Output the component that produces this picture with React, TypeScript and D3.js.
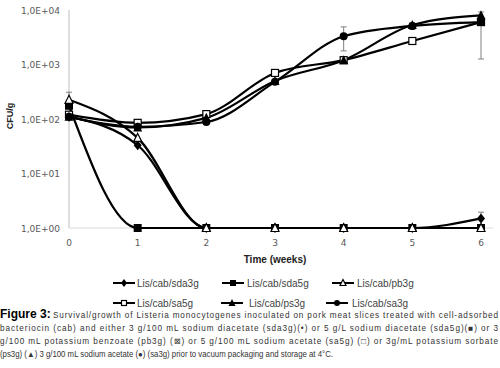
import React from 'react';
import * as d3 from 'd3';

// weeks of storage
const weeks = [0, 1, 2, 3, 4, 5, 6];

// CFU/g (log axis)
const sda3g = [110, 33, 1, 1, 1, 1, 1.5];
const sda5g = [175, 1, 1, 1, 1, 1, 1];
const pb3g = [225, 45, 1, 1, 1, 1, 1];
const sa5g = [120, 85, 123, 700, 1200, 2700, 6000];
const ps3g = [110, 70, 105, 500, 1200, 5300, 8000];
const sa3g = [110, 72, 88, 480, 3300, 5100, 6000];

const seriesNames = ['Lis/cab/sda3g', 'Lis/cab/sda5g', 'Lis/cab/pb3g', 'Lis/cab/sa5g', 'Lis/cab/ps3g', 'Lis/cab/sa3g'];
const seriesValues = [sda3g, sda5g, pb3g, sa5g, ps3g, sa3g];
const seriesMarkers = ['diamond', 'square', 'triangleOpen', 'squareOpen', 'triangle', 'circle'];

// error bars: series index, week, low, high
const errSeries = [2, 5, 5, 5, 0];
const errWeek = [0, 4, 5, 6, 6];
const errLow = [160, 1780, 4400, 1260, 1.1];
const errHigh = [310, 4900, 5800, 9200, 1.95];

const yTicks = [1, 10, 100, 1000, 10000];
const xTicks = [0, 1, 2, 3, 4, 5, 6];

const captionLines = [
  'Survival/growth of Listeria monocytogenes inoculated on pork meat slices treated with cell-adsorbed',
  'bacteriocin (cab) and either 3 g/100 mL sodium diacetate (sda3g)(•) or 5 g/L sodium diacetate (sda5g)(■) or 3',
  'g/100 mL potassium benzoate (pb3g) (⊠) or 5 g/100 mL sodium acetate (sa5g) (□) or 3g/mL potassium sorbate',
  '(ps3g) (▲) 3 g/100 mL sodium acetate (●) (sa3g) prior to vacuum packaging and storage at 4°C.',
];

const fmtExp = (v: number) => '1,0E+0' + Math.round(Math.log10(v));

function Marker({ kind, x, y, s }: { kind: string; x: number; y: number; s: number }) {
  const h = s / 2;
  if (kind === 'diamond')
    return <path d={`M${x},${y - h - 1}L${x + h},${y}L${x},${y + h + 1}L${x - h},${y}Z`} fill="#000" />;
  if (kind === 'square')
    return <rect x={x - h} y={y - h} width={s} height={s} fill="#000" />;
  if (kind === 'squareOpen')
    return <rect x={x - h + 0.5} y={y - h + 0.5} width={s - 1} height={s - 1} fill="#fff" stroke="#000" strokeWidth={1.2} />;
  if (kind === 'triangle')
    return <path d={`M${x},${y - h - 1}L${x + h + 0.5},${y + h}L${x - h - 0.5},${y + h}Z`} fill="#000" />;
  if (kind === 'triangleOpen')
    return <path d={`M${x},${y - h - 0.5}L${x + h},${y + h - 0.5}L${x - h},${y + h - 0.5}Z`} fill="#fff" stroke="#000" strokeWidth={1.2} />;
  return <circle cx={x} cy={y} r={h} fill="#000" />;
}

export default function App() {
  const W = 500, H = 368;
  const x = d3.scaleLinear().domain([0, 6]).range([69, 481]);
  const y = d3.scaleLog().domain([1, 10000]).range([228, 10]);
  const line = d3.line<number>()
    .x((_, i) => x(weeks[i]))
    .y(d => y(d))
    .curve(d3.curveMonotoneX);

  const legendRows = [
    [{ i: 0, lx: 113, tx: 137 }, { i: 1, lx: 222, tx: 247 }, { i: 2, lx: 332, tx: 357 }],
    [{ i: 3, lx: 113, tx: 137 }, { i: 4, lx: 221, tx: 249 }, { i: 5, lx: 326, tx: 352 }],
  ];
  const legendY = [283, 303];
  const capFont = 'Liberation Sans';
  const capSize = 8.2;

  return (
    <svg width={W} height={H} style={{ position: 'absolute', left: 0, top: 0 }}>
      <rect width={W} height={H} fill="#fff" />
      {/* axes */}
      <line x1={x(0)} x2={x(0)} y1={y(10000)} y2={y(1)} stroke="#bfbfbf" strokeWidth={1} />
      <line x1={x(0)} x2={x(6) + 12} y1={y(1)} y2={y(1)} stroke="#d9d9d9" strokeWidth={1} />
      {yTicks.map(t => (
        <text key={t} x={60} y={y(t) + 3.5} textAnchor="end" fontFamily="DejaVu Sans" fontSize={9} fill="#595959">
          {fmtExp(t)}
        </text>
      ))}
      {xTicks.map(t => (
        <text key={t} x={x(t)} y={246} textAnchor="middle" fontFamily="DejaVu Sans" fontSize={9} fill="#595959">
          {t}
        </text>
      ))}
      <text x={275} y={263} textAnchor="middle" fontFamily="Liberation Sans" fontWeight="bold" fontSize={10} fill="#222">
        Time (weeks)
      </text>
      <text transform="translate(13,116) rotate(-90)" textAnchor="middle" fontFamily="Liberation Sans" fontWeight="bold" fontSize={9} fill="#222">
        CFU/g
      </text>

      {/* error bars */}
      {errSeries.map((s, k) => {
        const cx = x(weeks[errWeek[k]]);
        return (
          <g key={k} stroke="#808080" strokeWidth={1}>
            <line x1={cx} x2={cx} y1={y(errLow[k])} y2={y(errHigh[k])} />
            <line x1={cx - 3} x2={cx + 3} y1={y(errLow[k])} y2={y(errLow[k])} />
            <line x1={cx - 3} x2={cx + 3} y1={y(errHigh[k])} y2={y(errHigh[k])} />
          </g>
        );
      })}

      {/* series */}
      {seriesValues.map((vals, si) => (
        <path key={si} d={line(vals) || ''} fill="none" stroke="#000" strokeWidth={2.2} />
      ))}
      {seriesValues.map((vals, si) => (
        <g key={si}>
          {vals.map((v, i) => (
            <Marker key={i} kind={seriesMarkers[si]} x={x(weeks[i])} y={y(v)} s={8} />
          ))}
        </g>
      ))}

      {/* legend */}
      {legendRows.map((row, r) => (
        <g key={r}>
          {row.map(({ i, lx, tx }) => (
            <g key={i}>
              <line x1={lx} x2={lx + 22} y1={legendY[r]} y2={legendY[r]} stroke="#000" strokeWidth={2} />
              <Marker kind={seriesMarkers[i]} x={lx + 11} y={legendY[r]} s={6} />
              <text x={tx} y={legendY[r] + 3.5} fontFamily="Liberation Sans" fontSize={10} fill="#444">
                {seriesNames[i]}
              </text>
            </g>
          ))}
        </g>
      ))}

      {/* caption */}
      <text x={0} y={318} fontFamily="Liberation Sans" fontWeight="bold" fontSize={12} fill="#000">Figure 3:</text>
      <text x={53} y={318} textLength={445} lengthAdjust="spacing" fontFamily={capFont} fontSize={capSize} fill="#333">
        {captionLines[0]}
      </text>
      <text x={0} y={331} textLength={498} lengthAdjust="spacing" fontFamily={capFont} fontSize={capSize} fill="#333">
        {captionLines[1]}
      </text>
      <text x={0} y={344} textLength={498} lengthAdjust="spacing" fontFamily={capFont} fontSize={capSize} fill="#333">
        {captionLines[2]}
      </text>
      <text x={0} y={357} textLength={333} lengthAdjust="spacingAndGlyphs" fontFamily={capFont} fontSize={capSize} fill="#333">
        {captionLines[3]}
      </text>
    </svg>
  );
}
